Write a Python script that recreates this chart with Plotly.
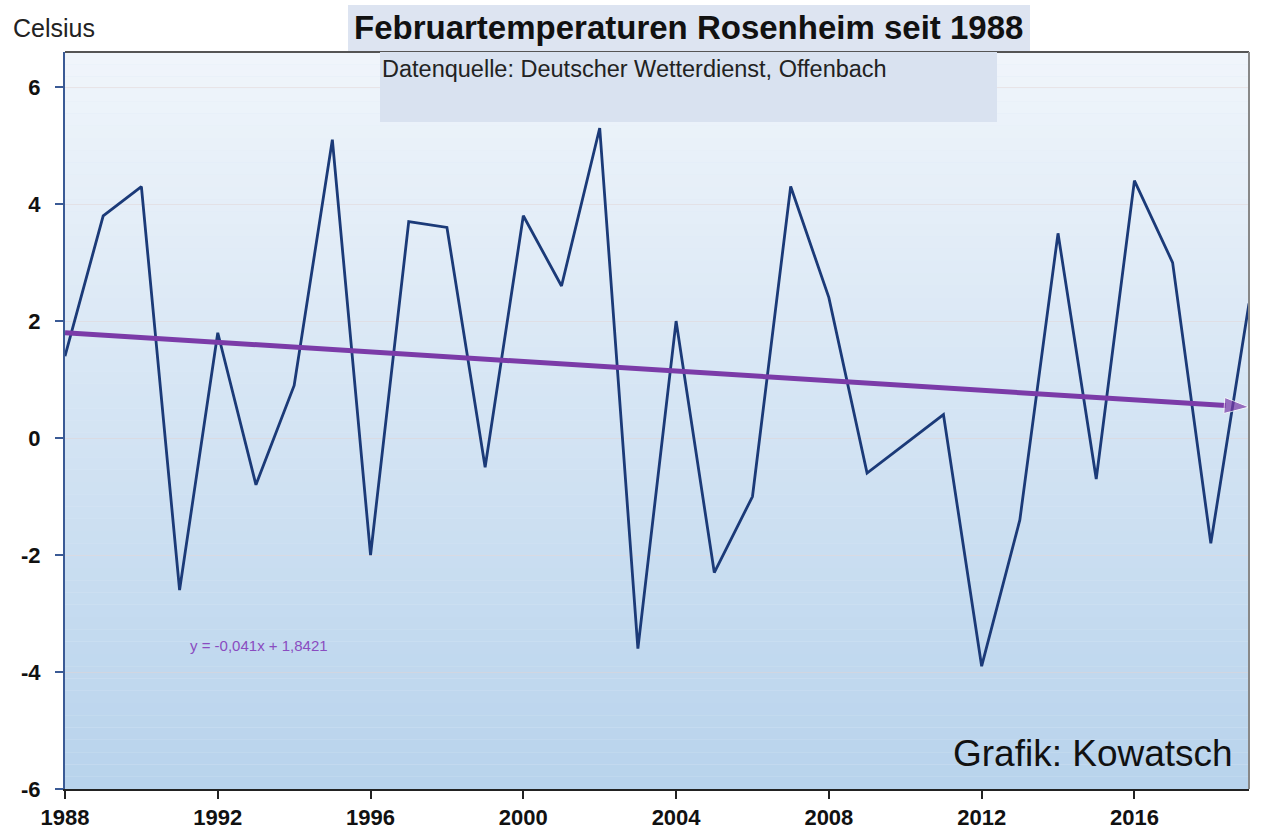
import plotly.graph_objects as go

# Februar-Mitteltemperaturen Rosenheim (Celsius)
years = list(range(1988, 2020))
temps = [1.4, 3.8, 4.3, -2.6, 1.8, -0.8, 0.9, 5.1, -2.0, 3.7, 3.6, -0.5,
         3.8, 2.6, 5.3, -3.6, 2.0, -2.3, -1.0, 4.3, 2.4, -0.6, -0.1, 0.4,
         -3.9, -1.4, 3.5, -0.7, 4.4, 3.0, -1.8, 2.3]

# Trendlinie laut Excel: y = -0,041x + 1,8421 (x = 1..n)
trend_slope = -0.041
trend_intercept = 1.8421
trend_x = [years[0], years[-1]]
trend_y = [trend_slope * 1 + trend_intercept,
           trend_slope * len(years) + trend_intercept]

y_ticks = [-6, -4, -2, 0, 2, 4, 6]
y_labels = ["-6", "-4", "-2", "0", "2", "4", "6"]
x_ticks = [1988, 1992, 1996, 2000, 2004, 2008, 2012, 2016]

fig = go.Figure()

# Verlaufshintergrund (oben fast weiß, unten hellblau)
top_rgb = (240, 245, 251)
bot_rgb = (184, 211, 236)
n_steps = 60
shapes = []
for i in range(n_steps):
    t = i / (n_steps - 1)
    r = round(top_rgb[0] + (bot_rgb[0] - top_rgb[0]) * t)
    g = round(top_rgb[1] + (bot_rgb[1] - top_rgb[1]) * t)
    b = round(top_rgb[2] + (bot_rgb[2] - top_rgb[2]) * t)
    shapes.append(dict(
        type="rect", xref="x domain", yref="y domain",
        x0=0, x1=1, y0=1 - (i + 1) / n_steps, y1=1 - i / n_steps,
        fillcolor=f"rgb({r},{g},{b})", line=dict(width=0), layer="below"
    ))

# Rahmen: oben dunkel, rechts grau
shapes.append(dict(type="line", xref="x domain", yref="y domain",
                   x0=0, x1=1, y0=1, y1=1, line=dict(color="#555555", width=2)))
shapes.append(dict(type="line", xref="x domain", yref="y domain",
                   x0=1, x1=1, y0=0, y1=1, line=dict(color="#888888", width=2)))

# Kasten für Titel und Datenquelle
shapes.append(dict(type="rect", xref="paper", yref="paper",
                   x0=(348 - 65) / 1184, x1=(1030 - 65) / 1184,
                   y0=1.0, y1=1 + 47 / 737,
                   fillcolor="#dde4f1", line=dict(width=0), layer="below"))
shapes.append(dict(type="rect", xref="paper", yref="paper",
                   x0=(380 - 65) / 1184, x1=(997 - 65) / 1184,
                   y0=1 - 70 / 737, y1=1.0,
                   fillcolor="#d9e2f0", line=dict(width=0), layer="above"))

fig.add_trace(go.Scatter(
    x=years, y=temps, mode="lines",
    line=dict(color="#1b3a78", width=2.8),
    showlegend=False
))

fig.add_trace(go.Scatter(
    x=trend_x, y=trend_y, mode="lines+markers",
    line=dict(color="#7b3ba8", width=5),
    marker=dict(symbol="arrow", size=[0, 26], angleref="previous",
                color="#7b3ba8"),
    showlegend=False, cliponaxis=False
))

tick_font = dict(size=22, color="#111111", family="Liberation Sans, Arial")

fig.update_layout(
    width=1281, height=829,
    margin=dict(l=65, r=32, t=52, b=40),
    paper_bgcolor="white",
    plot_bgcolor="#dfeaf6",
    font=dict(family="Liberation Sans, Arial, sans-serif", color="#111111"),
    shapes=shapes,
    xaxis=dict(
        range=[1988, 2019], tickvals=x_ticks,
        ticktext=[f"<b>{v}</b>" for v in x_ticks],
        ticks="outside", ticklen=8, tickcolor="#222222", tickwidth=2,
        showline=True, linecolor="#222222", linewidth=2,
        showgrid=False, zeroline=False, automargin=False,
        tickfont=tick_font,
    ),
    yaxis=dict(
        range=[-6, 6.6], tickvals=y_ticks,
        ticktext=[f"<b>{v}</b>" for v in y_labels],
        ticks="outside", ticklen=8, tickcolor="#3a5a95", tickwidth=2,
        ticklabelstandoff=10,
        showline=True, linecolor="#3a5a95", linewidth=2,
        showgrid=True, gridcolor="rgba(225,212,212,0.5)", gridwidth=1,
        zeroline=False, automargin=False,
        tickfont=tick_font,
    ),
    annotations=[
        dict(text="<b>Februartemperaturen Rosenheim seit 1988</b>",
             xref="paper", yref="paper", x=(689 - 65) / 1184, y=1 + 24 / 737,
             xanchor="center", yanchor="middle", showarrow=False,
             font=dict(size=33, color="#111111")),
        dict(text="Datenquelle: Deutscher Wetterdienst, Offenbach",
             xref="paper", yref="paper", x=(380 - 65) / 1184,
             y=1 - 2 / 737, xanchor="left", yanchor="top", showarrow=False,
             font=dict(size=23.5, color="#222222",
                       family="Liberation Sans Narrow, Arial Narrow, Liberation Sans")),
        dict(text="Celsius", xref="paper", yref="paper",
             x=-54 / 1184, y=1 + 24 / 737, xanchor="left", yanchor="middle",
             showarrow=False, font=dict(size=25, color="#222222")),
        dict(text="Grafik: Kowatsch", xref="paper", yref="paper",
             x=1 - 14 / 1184, y=13 / 737, xanchor="right", yanchor="bottom",
             showarrow=False, font=dict(size=37, color="#111111")),
        dict(text="y = -0,041x + 1,8421", xref="paper", yref="paper",
             x=(188 - 65) / 1184, y=(789 - 645) / 737, xanchor="left",
             yanchor="middle", showarrow=False,
             font=dict(size=15, color="#8a4cc0")),
    ],
)

fig.write_html("out.html", config={"displayModeBar": False},
               post_script="document.body.style.margin='0px';")
